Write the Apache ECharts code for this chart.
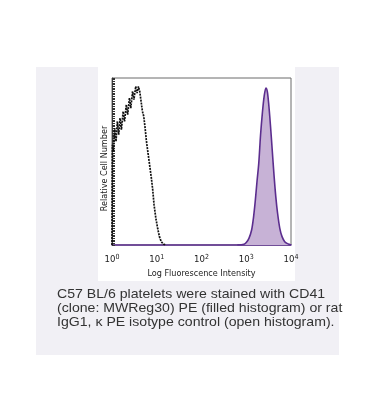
<!DOCTYPE html>
<html>
<head>
<meta charset="utf-8">
<style>html,body{margin:0;padding:0;background:#fff;}#c{width:367px;height:411px;}</style>
<script src="https://cdn.jsdelivr.net/npm/echarts@6/dist/echarts.min.js"></script>
</head>
<body>
<div id="c"></div>
<script>
// Fluorescence intensity (linear units) and relative cell number for the open (isotype) histogram
const isotypeX = [1, 1.023, 1.072, 1.148, 1.230, 1.318, 1.413, 1.514, 1.622, 1.778, 1.905, 2.089, 2.239, 2.455, 2.630, 2.884, 3.090, 3.388, 3.631, 3.890, 4.169, 4.467, 4.786, 5.129, 5.495, 5.888, 6.310, 6.918, 7.586, 8.128, 8.710, 9.550, 10.47, 11.48, 12.59, 14.13, 15.85];
const isotypeY = [0, 0.60, 0.56, 0.70, 0.62, 0.74, 0.66, 0.76, 0.69, 0.80, 0.74, 0.84, 0.78, 0.88, 0.82, 0.92, 0.87, 0.95, 0.91, 0.95, 0.92, 0.86, 0.80, 0.77, 0.70, 0.62, 0.56, 0.48, 0.40, 0.33, 0.24, 0.16, 0.10, 0.05, 0.02, 0.005, 0];
// Filled histogram (CD41 PE)
const cd41X = [631, 891, 1000, 1148, 1318, 1445, 1585, 1738, 1905, 2089, 2291, 2512, 2754, 2951, 3162, 3467, 3802, 4169, 4571, 5012, 5623, 6310, 7244, 8318, 9550, 10000];
const cd41Y = [0, 0.005, 0.015, 0.04, 0.09, 0.16, 0.26, 0.38, 0.49, 0.66, 0.79, 0.89, 0.94, 0.92, 0.85, 0.72, 0.57, 0.42, 0.29, 0.19, 0.10, 0.05, 0.02, 0.008, 0.002, 0];
const tickExponents = ['0', '1', '2', '3', '4'];
const xAxisTitle = 'Log Fluorescence Intensity';
const yAxisTitle = 'Relative Cell Number';
const captionLines = [
  'C57 BL/6 platelets were stained with CD41',
  '(clone: MWReg30) PE (filled histogram) or rat',
  'IgG1, \u03BA PE isotype control (open histogram).'
];

const pair = (xs, ys) => xs.map((x, i) => [x, ys[i]]);

const chart = echarts.init(document.getElementById('c'), null, {renderer: 'canvas'});
chart.setOption({
  backgroundColor: '#ffffff',
  animation: false,
  graphic: [
    {type: 'rect', z: -10, shape: {x: 36, y: 67, width: 303, height: 288}, style: {fill: '#f1f0f5'}},
    {type: 'rect', z: -9, shape: {x: 98, y: 67, width: 197, height: 214}, style: {fill: '#ffffff'}},
    {type: 'text', x: 57, y: 287, scaleX: 1.085, style: {text: captionLines.join('\n'), fontFamily: 'Liberation Sans, Arial, sans-serif', fontSize: 13, lineHeight: 14.3, fill: '#333333'}}
  ],
  grid: {left: 112, top: 78, width: 179, height: 167, show: true, borderColor: '#6a6a6a', borderWidth: 1, backgroundColor: 'transparent'},
  xAxis: {
    type: 'log', logBase: 10, min: 1, max: 10000,
    name: xAxisTitle, nameLocation: 'middle', nameGap: 24,
    nameTextStyle: {fontFamily: 'DejaVu Sans Condensed, DejaVu Sans, sans-serif', fontSize: 9, color: '#222'},
    axisLine: {show: true, lineStyle: {color: '#5b2d8e', width: 1.5}},
    axisTick: {show: false},
    splitLine: {show: false},
    axisLabel: {
      margin: 9,
      formatter: function (v) {
        const e = Math.round(Math.log10(v));
        return '{b|10}{s|' + tickExponents[e] + '}';
      },
      rich: {
        b: {fontFamily: 'DejaVu Sans Condensed, DejaVu Sans, sans-serif', fontSize: 9.5, color: '#222'},
        s: {fontFamily: 'DejaVu Sans Condensed, DejaVu Sans, sans-serif', fontSize: 7, color: '#222', verticalAlign: 'bottom', padding: [0, 0, 5, 0]}
      }
    }
  },
  yAxis: {
    type: 'value', min: 0, max: 1, interval: 0.01,
    name: yAxisTitle, nameLocation: 'middle', nameGap: 3,
    nameTextStyle: {fontFamily: 'DejaVu Sans Condensed, DejaVu Sans, sans-serif', fontSize: 9, color: '#222', padding: [0, 0, 0, -14]},
    axisLine: {show: true, lineStyle: {color: '#444', width: 1}},
    axisTick: {show: true, inside: true, length: 3, lineStyle: {color: '#333', width: 1}},
    axisLabel: {show: false},
    splitLine: {show: false}
  },
  series: [
    {
      type: 'line', data: pair(cd41X, cd41Y), symbol: 'none', smooth: 0.3, z: 3,
      lineStyle: {color: '#5b2d8e', width: 1.6},
      areaStyle: {color: '#c7b2d6', opacity: 1}
    },
    {
      type: 'line', data: pair(isotypeX, isotypeY), symbol: 'none', z: 4,
      lineStyle: {color: '#111', width: 1.7, type: [2, 1]}
    }
  ]
});
</script>
</body>
</html>
